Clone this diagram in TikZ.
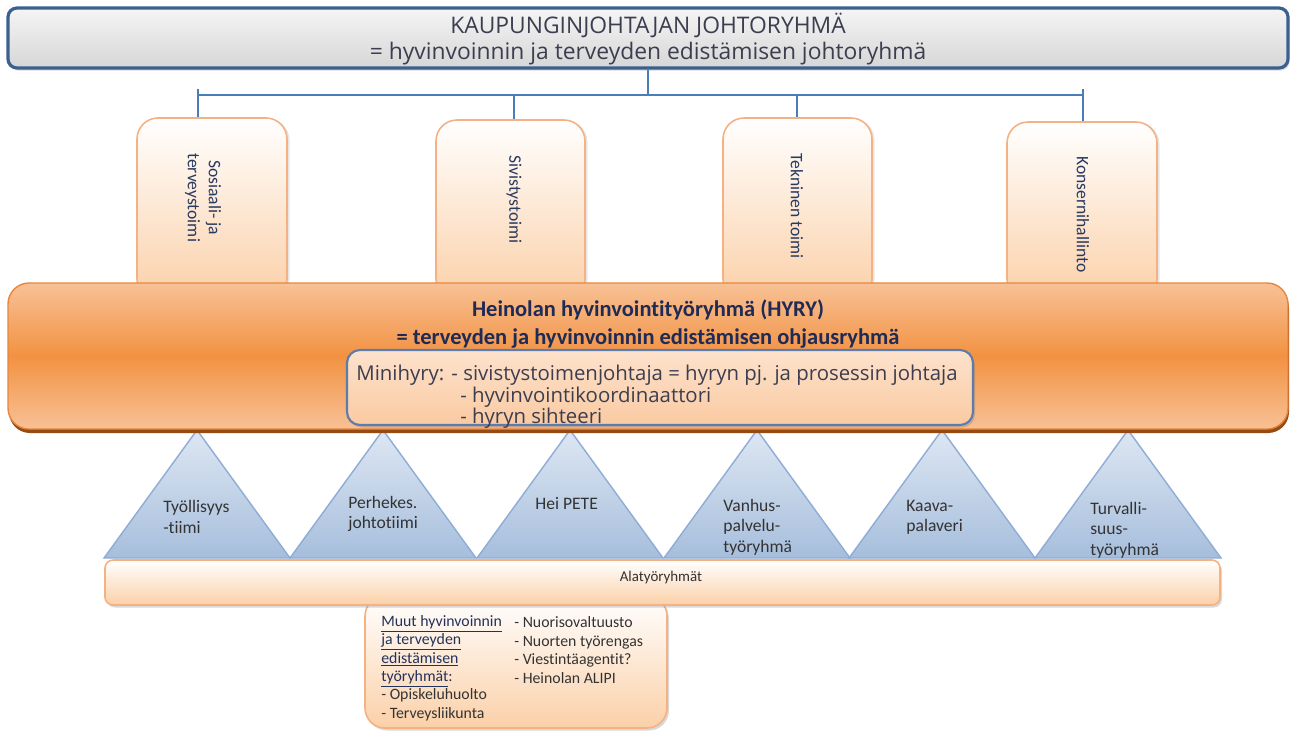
\documentclass[tikz,border=0pt]{standalone}
\usepackage{fontspec}
\setmainfont[Ligatures=NoCommon]{Carlito}
\newfontfamily\headfont{Open Sans}
\usepackage{xcolor}
\definecolor{hdrBlue}{RGB}{61,95,143}
\definecolor{busBlue}{RGB}{74,126,187}
\definecolor{tabLine}{RGB}{244,177,131}
\definecolor{tabFill}{RGB}{251,208,168}
\definecolor{bandTop}{RGB}{248,193,150}
\definecolor{bandMid}{RGB}{242,146,66}
\definecolor{bandLine}{RGB}{232,135,60}
\definecolor{bandShadow}{RGB}{150,75,20}
\definecolor{navy}{RGB}{31,42,85}
\definecolor{miniLine}{RGB}{92,124,172}
\definecolor{miniTop}{RGB}{253,226,204}
\definecolor{miniBot}{RGB}{250,202,162}
\definecolor{triTop}{RGB}{222,231,243}
\definecolor{triBot}{RGB}{166,190,220}
\definecolor{triLine}{RGB}{141,172,214}
\definecolor{txtGray}{RGB}{60,62,80}
\definecolor{darkGray}{RGB}{51,51,51}
\definecolor{tabTxt}{RGB}{40,58,96}
\definecolor{ulBlue}{RGB}{35,50,90}
\usepackage{tikz}
\usetikzlibrary{positioning,fit,shadows,calc}

\begin{document}
\begin{tikzpicture}[x=0.02cm, y=-0.02cm,
  hdr/.style={draw=hdrBlue, line width=1.8pt, rounded corners=0.18cm,
              top color=gray!8, bottom color=gray!32, inner sep=0pt,
              drop shadow={opacity=0.3, shadow xshift=0.03cm, shadow yshift=-0.05cm}},
  hdrtxt/.style={font=\headfont\fontsize{13}{15}\selectfont, text=txtGray, align=center, inner sep=0pt},
  conn/.style={draw=busBlue, line width=1.5pt},
  tab/.style={draw=tabLine, line width=0.9pt, rounded corners=0.42cm,
              top color=white, bottom color=tabFill, inner sep=0pt,
              drop shadow={opacity=0.2, shadow xshift=0.05cm, shadow yshift=-0.02cm}},
  tabtxt/.style={rotate=-90, anchor=west, inner sep=0pt, align=center,
              font=\fontsize{10}{12}\selectfont, text=tabTxt},
  band/.style={draw=bandLine, line width=0.8pt, rounded corners=0.42cm,
              top color=bandTop, bottom color=bandTop, middle color=bandMid, inner sep=0pt,
              drop shadow={opacity=1, fill=bandShadow, shadow xshift=0.02cm, shadow yshift=-0.08cm}},
  mini/.style={draw=miniLine, line width=1.2pt, rounded corners=0.26cm,
              top color=miniTop, bottom color=miniBot, inner sep=0pt,
              drop shadow={opacity=0.35, shadow xshift=0.04cm, shadow yshift=-0.05cm}},
  tri/.style={draw=triLine, line width=0.8pt, top color=triTop, bottom color=triBot},
  tritxt/.style={anchor=west, inner sep=0pt, align=left,
              font=\fontsize{10}{11.6}\selectfont, text=darkGray},
  pale/.style={draw=tabLine, line width=0.9pt, top color=white, bottom color=tabFill,
              inner sep=0pt, drop shadow={opacity=0.3, shadow xshift=0.04cm, shadow yshift=-0.05cm}}
]
\useasboundingbox (0,0) rectangle (1290,731);

%% -- Johtoryhma -------------------------------------------------
\node[hdr, fit={(8,8) (1288,68)}] (hdr) {};
\node[hdrtxt] (hdrT) at (648,39)
  {KAUPUNGINJOHTAJAN JOHTORYHMÄ\\= hyvinvoinnin ja terveyden edistämisen johtoryhmä};

%% -- Toimialat --------------------------------------------------
\node[tab, fit={(137,118) (287,300)}]  (sos) {};
\node[tab, fit={(436,120) (585,300)}]  (siv) {};
\node[tab, fit={(723,118) (872,300)}]  (tek) {};
\node[tab, fit={(1007,122) (1157,300)}] (kon) {};
\node[tabtxt] (sosT) at (203,153)  {Sosiaali- ja\\terveystoimi};
\node[tabtxt] (sivT) at (514,155)  {Sivistystoimi};
\node[tabtxt] (tekT) at (797,153)  {Tekninen toimi};
\node[tabtxt] (konT) at (1083,156) {Konsernihallinto};

\coordinate (bus) at (648,95);
\coordinate (busTop) at (648,89);
\draw[conn] (hdr.south) -- (bus);
\draw[conn] ([xshift=-0.1cm]sosT.west |- bus) -- (konT.west |- bus);
\draw[conn] ([xshift=-0.1cm]sosT.west |- busTop) -- ([xshift=-0.1cm]sosT.west |- sos.north);
\draw[conn] (sivT.west |- bus) -- (sivT.west |- siv.north);
\draw[conn] (tekT.west |- bus) -- (tekT.west |- tek.north);
\draw[conn] (konT.west |- busTop) -- (konT.west |- kon.north);

%% -- Alatyoryhmien kolmiot --------------------------------------
\foreach \ax in {197,383,570,757,942,1128}
  \shade[tri] (\ax-93,558) -- (\ax,430) -- (\ax+93,558) -- cycle;
\node[tritxt] (t1) at (163,517)  {Työllisyys\\-tiimi};
\node[tritxt] (t2) at (348,514)  {Perhekes.\\johtotiimi};
\node[tritxt] (t3) at (535,504)  {Hei PETE};
\node[tritxt] (t4) at (723,527)  {Vanhus-\\palvelu-\\työryhmä};
\node[tritxt] (t5) at (906,517)  {Kaava-\\palaveri};
\node[tritxt] (t6) at (1090,530) {Turvalli-\\suus-\\työryhmä};

%% -- HYRY --------------------------------------------------------
\node[band, fit={(8,283) (1288,429)}] (hyry) {};
\node[font=\bfseries\fontsize{12.8}{15.6}\selectfont, text=navy, align=center] (hyryT) at (648,324)
  {Heinolan hyvinvointityöryhmä (HYRY)\\= terveyden ja hyvinvoinnin edistämisen ohjausryhmä};
\node[mini, fit={(347,350) (973,425)}] (mini) {};
\node[anchor=west, inner sep=0pt, align=left, text=txtGray,
      font=\headfont\fontsize{11.6}{12.3}\selectfont] (miniT) at (356,397)
  {Minihyry: - sivistystoimenjohtaja = hyryn pj. ja prosessin johtaja\\
   \hspace*{2.08cm}- hyvinvointikoordinaattori\\
   \hspace*{2.08cm}- hyryn sihteeri};

%% -- Muut tyoryhmat ja alatyoryhmat --------------------------------
\node[pale, rounded corners=0.4cm, fit={(365,596) (667,728)}] (muut) {};
\node[anchor=west, inner sep=0pt, align=left, text=darkGray,
      font=\fontsize{9}{10.5}\selectfont] (muutL) at (381,668)
  {\textcolor{ulBlue}{\underline{Muut hyvinvoinnin}}\\
   \textcolor{ulBlue}{\underline{ja terveyden}}\\
   \textcolor{ulBlue}{\underline{edistämisen}}\\
   \textcolor{ulBlue}{\underline{työryhmät}:}\\
   - Opiskeluhuolto\\
   - Terveysliikunta};
\node[anchor=west, inner sep=0pt, align=left, text=darkGray,
      font=\fontsize{9}{10.5}\selectfont] (muutR) at (514,650)
  {- Nuorisovaltuusto\\- Nuorten työrengas\\- Viestintäagentit?\\- Heinolan ALIPI};
\node[pale, rounded corners=0.16cm, fit={(105,560) (1220,605)}] (alat) {};
\node[font=\fontsize{8.5}{10}\selectfont, text=darkGray] (alatT) at (661,578) {Alatyöryhmät};
\end{tikzpicture}
\end{document}
